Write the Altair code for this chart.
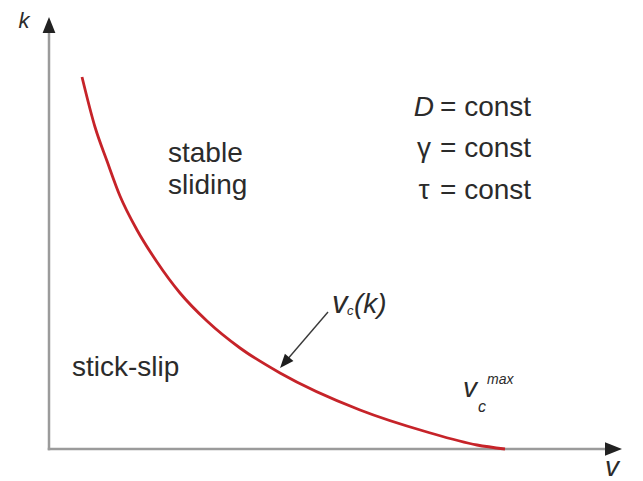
import altair as alt
import pandas as pd

# Critical velocity boundary v_c(k) separating stick-slip from stable sliding
velocity = [33, 46, 58, 71, 88, 108, 131, 158, 191, 231, 311, 378, 428, 456]
stiffness = [372, 322, 288, 253, 219, 187, 156, 128, 101, 76, 39, 17, 4, 0]

curve = pd.DataFrame({"v": velocity, "k": stiffness})

X_SCALE = alt.Scale(domain=[-49, 594], nice=False, zero=False)
Y_SCALE = alt.Scale(domain=[-32, 449], nice=False, zero=False)
FONT = "Liberation Sans"
INK = "#2b2b2b"
AXIS_GRAY = "#9b9b9b"
HEAD = "M -1 -0.8 L 1 0 L -1 0.8 Z"

one = alt.Data(values=[{}])


def at(v, k):
    return dict(
        x=alt.XDatum(v, scale=X_SCALE, axis=None),
        y=alt.YDatum(k, scale=Y_SCALE, axis=None),
    )


def label(text, v, k, size=28, italic=False, align="left"):
    return alt.Chart(one).mark_text(
        text=text,
        font=FONT,
        fontSize=size,
        fontStyle="italic" if italic else "normal",
        align=align,
        baseline="alphabetic",
        color=INK,
    ).encode(**at(v, k))


def head(v, k, angle, size, color="#222222"):
    return alt.Chart(one).mark_point(
        shape=HEAD, size=size, angle=angle, filled=True,
        color=color, opacity=1, strokeWidth=0,
    ).encode(**at(v, k))


# axes with arrowheads
x_axis = alt.Chart(one).mark_rule(
    color=AXIS_GRAY, strokeWidth=2.5, strokeCap="square"
).encode(**at(0, 0), x2=alt.X2Datum(558))
y_axis = alt.Chart(one).mark_rule(
    color=AXIS_GRAY, strokeWidth=2.5, strokeCap="square"
).encode(**at(0, 0), y2=alt.Y2Datum(422))
x_head = head(564.5, 0, 0, 289)
y_head = head(0, 424, 270, 256)

boundary = alt.Chart(curve).mark_line(
    color="#c62329", strokeWidth=2.8, interpolate="monotone"
).encode(
    x=alt.X("v:Q", scale=X_SCALE, axis=None),
    y=alt.Y("k:Q", scale=Y_SCALE, axis=None),
)

# pointer from the v_c(k) label to the curve
pointer = alt.Chart(one).mark_rule(
    color="#3a3a3a", strokeWidth=1.4
).encode(**at(279, 137), x2=alt.X2Datum(237), y2=alt.Y2Datum(88))
pointer_head = head(235.6, 86.3, 130.6, 196, color="#1e1e1e")

texts = [
    label("k", -25, 421, size=22, italic=True, align="center"),
    label("v", 563, -27, size=28, italic=True, align="center"),
    label("D", 385, 333, italic=True, align="right"),
    label("= const", 391, 333),
    label("γ", 375, 292, align="center"),
    label("= const", 391, 292),
    label("τ", 375, 250, align="center"),
    label("= const", 391, 250),
    label("stable", 119, 287),
    label("sliding", 119, 255),
    label("stick-slip", 23, 73),
    label("v", 283, 136, size=31, italic=True),
    label("c", 298, 134, size=13, italic=True),
    label("(k)", 305, 136, size=28, italic=True),
    label("v", 414, 52, size=28, italic=True),
    label("c", 429, 37, size=16, italic=True),
    label("max", 438, 65, size=14, italic=True),
]

chart = alt.layer(
    x_axis, y_axis, x_head, y_head, boundary, pointer, pointer_head, *texts
).properties(
    width=643, height=481, padding=0, autosize="none", background="white"
).configure_view(strokeWidth=0)

chart.save("out.html", embed_options={"renderer": "svg", "actions": False})
